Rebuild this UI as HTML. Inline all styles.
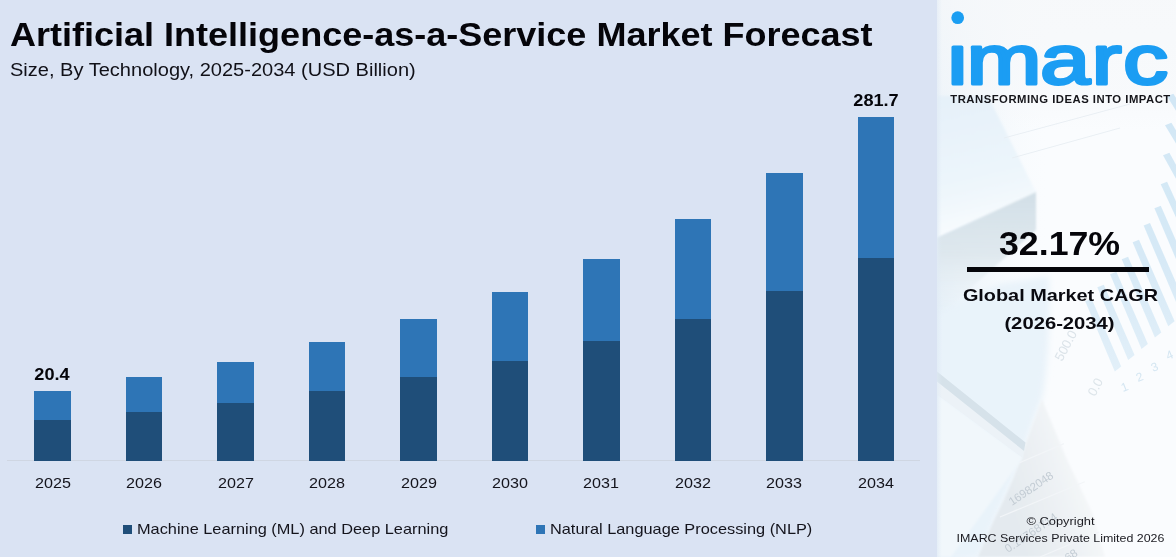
<!DOCTYPE html>
<html lang="en">
<head>
<meta charset="utf-8">
<title>Artificial Intelligence-as-a-Service Market Forecast</title>
<style>
html,body{margin:0;padding:0;}
body{width:1176px;height:557px;overflow:hidden;background:#dae3f3;font-family:"Liberation Sans",Arial,sans-serif;color:#0b0b0f;position:relative;}
.abs{position:absolute;white-space:nowrap;line-height:1;transform-origin:0 0;}
#title{left:9.6px;top:19px;font-size:32.5px;font-weight:bold;transform:scaleX(1.108);color:#05050a;}
#sub{left:9.8px;top:61.3px;font-size:18px;transform:scaleX(1.113);color:#111118;}
.bar{position:absolute;width:36.4px;}
.d{background:#1f4e79;}
.l{background:#2e75b6;}
#axis{position:absolute;left:7px;top:460px;width:913px;height:1px;background:#cfd6e2;}
.yr{position:absolute;top:475px;width:60px;margin-left:-30px;text-align:center;font-size:15.3px;line-height:15.3px;transform:scaleX(1.055);color:#14141c;}
.val{position:absolute;width:80px;margin-left:-40.6px;text-align:center;font-size:16.3px;line-height:16px;font-weight:bold;transform:scaleX(1.115);color:#05050a;}
.lg{position:absolute;top:525px;width:9px;height:9px;}
.lt{top:521.7px;font-size:14.5px;transform:scaleX(1.126);color:#14141c;}
#panel{position:absolute;left:937px;top:0;width:239px;height:557px;background:#f3f8fc;overflow:hidden;}
#tag{left:13.3px;top:93.7px;font-size:11.3px;font-weight:bold;letter-spacing:.5px;color:#15151a;}
#pct{left:62px;top:226.4px;font-size:34px;font-weight:bold;transform:scaleX(1.05);color:#05050a;}
#rule{position:absolute;left:30px;top:267px;width:182px;height:5px;background:#05050a;}
.ctr{transform-origin:50% 0;text-align:center;}
#g1{left:0;width:239px;top:286.8px;font-size:17px;font-weight:bold;transform:scaleX(1.167);margin-left:4px;color:#0a0a10;}
#g2{left:0;width:239px;top:314.6px;font-size:17px;font-weight:bold;transform:scaleX(1.19);margin-left:3px;color:#0a0a10;}
#c1{left:0;width:239px;top:516px;font-size:11px;transform:scaleX(1.168);margin-left:3.5px;color:#1a1a20;}
#c2{left:0;width:239px;top:533px;font-size:11.3px;transform:scaleX(1.10);margin-left:4px;color:#1a1a20;}
</style>
</head>
<body>
<div id="title" class="abs">Artificial Intelligence-as-a-Service Market Forecast</div>
<div id="sub" class="abs">Size, By Technology, 2025-2034 (USD Billion)</div>

<div id="axis"></div>
<div class="bar l" style="left:34.3px;top:391px;height:29px"></div><div class="bar d" style="left:34.3px;top:420px;height:41px"></div><div class="yr" style="left:52.5px">2025</div>
<div class="bar l" style="left:125.8px;top:377px;height:35px"></div><div class="bar d" style="left:125.8px;top:412px;height:49px"></div><div class="yr" style="left:144.0px">2026</div>
<div class="bar l" style="left:217.3px;top:362px;height:41px"></div><div class="bar d" style="left:217.3px;top:403px;height:58px"></div><div class="yr" style="left:235.5px">2027</div>
<div class="bar l" style="left:308.8px;top:342px;height:49px"></div><div class="bar d" style="left:308.8px;top:391px;height:70px"></div><div class="yr" style="left:327.0px">2028</div>
<div class="bar l" style="left:400.3px;top:319px;height:58px"></div><div class="bar d" style="left:400.3px;top:377px;height:84px"></div><div class="yr" style="left:418.5px">2029</div>
<div class="bar l" style="left:491.8px;top:292px;height:69px"></div><div class="bar d" style="left:491.8px;top:361px;height:100px"></div><div class="yr" style="left:510.0px">2030</div>
<div class="bar l" style="left:583.2px;top:259px;height:82px"></div><div class="bar d" style="left:583.2px;top:341px;height:120px"></div><div class="yr" style="left:601.4px">2031</div>
<div class="bar l" style="left:674.7px;top:219px;height:100px"></div><div class="bar d" style="left:674.7px;top:319px;height:142px"></div><div class="yr" style="left:692.9px">2032</div>
<div class="bar l" style="left:766.2px;top:173px;height:118px"></div><div class="bar d" style="left:766.2px;top:291px;height:170px"></div><div class="yr" style="left:784.4px">2033</div>
<div class="bar l" style="left:857.7px;top:117px;height:141px"></div><div class="bar d" style="left:857.7px;top:258px;height:203px"></div><div class="yr" style="left:875.9px">2034</div>
<div class="val" style="left:52.5px;top:366px">20.4</div>
<div class="val" style="left:876.2px;top:91.8px">281.7</div>

<div class="lg d" style="left:123px"></div>
<div class="abs lt" style="left:137px">Machine Learning (ML) and Deep Learning</div>
<div class="lg l" style="left:536px"></div>
<div class="abs lt" style="left:550px">Natural Language Processing (NLP)</div>

<div id="panel">
<svg id="bg" width="239" height="557" viewBox="937 0 239 557" style="position:absolute;left:0;top:0">
<defs>
<linearGradient id="gEdge" x1="0" x2="1" y1="0" y2="0"><stop offset="0" stop-color="#dfeaf5"/><stop offset="1" stop-color="#dfeaf5" stop-opacity="0"/></linearGradient>
<linearGradient id="gTop" x1="0" x2="1" y1="0" y2="0"><stop offset="0" stop-color="#e4eff8"/><stop offset="1" stop-color="#f6fafd" stop-opacity="0"/></linearGradient>
<linearGradient id="gTopFace" gradientUnits="userSpaceOnUse" x1="960" y1="100" x2="990" y2="225"><stop offset="0" stop-color="#e6f1f9"/><stop offset=".6" stop-color="#ecf5fb"/><stop offset="1" stop-color="#f7fbfe"/></linearGradient>
<linearGradient id="gWhiteTop" x1="0" x2="0" y1="0" y2="1"><stop offset="0" stop-color="#f6f8fa" stop-opacity=".85"/><stop offset=".7" stop-color="#f6f8fa" stop-opacity=".6"/><stop offset="1" stop-color="#f6f8fa" stop-opacity="0"/></linearGradient>
<linearGradient id="gFace" x1="0" x2="0" y1="0" y2="1"><stop offset="0" stop-color="#d2dfe7"/><stop offset=".5" stop-color="#dde7ed" stop-opacity=".9"/><stop offset="1" stop-color="#eef4f8" stop-opacity="0"/></linearGradient>
<linearGradient id="gStripe" gradientUnits="userSpaceOnUse" x1="0" x2="0" y1="100" y2="380"><stop offset="0" stop-color="#d0e6f5"/><stop offset=".55" stop-color="#d5e9f6"/><stop offset="1" stop-color="#e2f0f9"/></linearGradient>
<linearGradient id="gPaper" gradientUnits="userSpaceOnUse" x1="1000" y1="470" x2="1095" y2="440"><stop offset="0" stop-color="#e4eaef"/><stop offset=".45" stop-color="#edf1f4"/><stop offset="1" stop-color="#fafbfc"/></linearGradient>
<filter id="b0"><feGaussianBlur stdDeviation="0.7"/></filter>
<filter id="b1"><feGaussianBlur stdDeviation="1.2"/></filter>
<filter id="b2"><feGaussianBlur stdDeviation="3"/></filter>
<filter id="b3"><feGaussianBlur stdDeviation="8"/></filter>
</defs>
<rect x="937" y="0" width="239" height="557" fill="#fafcfe"/>
<!-- soft bluish wash on the left / top-left -->
<rect x="937" y="0" width="110" height="557" fill="url(#gTop)"/>
<rect x="937" y="0" width="239" height="130" fill="url(#gWhiteTop)"/>
<!-- box top face -->
<polygon points="937,96 988,96 1036,192 937,238" fill="url(#gTopFace)" filter="url(#b1)"/>
<!-- box side face -->
<polygon points="937,238 1036,192 1036,230 937,318" fill="url(#gFace)" filter="url(#b1)"/>
<!-- faint paper lines -->
<g stroke="#e8eef3" stroke-width="1" fill="none" opacity=".9">
<line x1="1004" y1="138" x2="1130" y2="104"/><line x1="1012" y1="158" x2="1120" y2="128"/>
</g>
<!-- stripes -->
<g id="stripes" fill="url(#gStripe)" filter="url(#b0)" opacity=".95">
<polygon points="1085.2,301.2 1091.6,298.8 1121.2,366.4 1114.8,371.4"/>
<polygon points="1097.3,287.2 1103.8,284.8 1134.6,355.1 1128.2,360.1"/>
<polygon points="1110.0,274.2 1116.4,271.8 1147.9,343.9 1141.5,348.9"/>
<polygon points="1121.7,259.2 1128.1,256.8 1161.3,332.6 1154.9,337.6"/>
<polygon points="1132.6,242.2 1139.0,239.8 1174.6,321.3 1168.2,326.3"/>
<polygon points="1143.6,225.5 1150.0,223.1 1188.0,310.1 1181.6,315.1"/>
<polygon points="1154.4,208.2 1160.8,205.8 1201.3,298.8 1194.9,303.8"/>
<polygon points="1160.7,184.2 1167.1,181.8 1190,232 1183.6,234"/>
<polygon points="1163,155.2 1169.4,152.8 1190,190 1183.6,192.5"/>
<polygon points="1165,125.2 1171.4,122.8 1190,153 1183.6,156"/>
<polygon points="1167,96.2 1173.4,93.8 1190,120 1183.6,123"/>
</g>
<!-- lower-left bluish sheet -->
<path d="M937,314 L1000,284 L1049,276 C1051,330 1046,385 1041.8,399 Q1030,432 1018,466 Q1010,488 994,520 L978,557 L937,557 Z" fill="#e9f3fa" filter="url(#b2)"/>
<!-- gray paper bottom -->
<path d="M1041.8,399 L1067,459.5 L1092.7,513.6 L1105,557 L978,557 L994,520 Q1010,488 1018,466 Q1030,432 1041.8,399 Z" fill="url(#gPaper)" filter="url(#b1)"/>
<g stroke="#f2f5f8" stroke-width="1.2" fill="none"><line x1="1019.5" y1="462.7" x2="1064" y2="443.6"/><line x1="1000" y1="517" x2="1084.7" y2="481.8"/><line x1="1040" y1="557" x2="1099" y2="532"/></g>
<!-- pen -->
<polygon points="937,394.5 1022.8,457.7 951,557 937,557" fill="#f1f7fb" filter="url(#b1)"/>
<polygon points="937,380 1024,450 1022.8,458 937,394.5" fill="#ecf2f7" filter="url(#b0)"/>
<polygon points="937,371.5 1025.5,442.5 1024,451 937,381.5" fill="#d6e2ea" filter="url(#b0)"/>
<rect x="937" y="0" width="5" height="557" fill="url(#gEdge)" opacity=".6"/>
<g font-family="'Liberation Sans',Arial,sans-serif" fill="#c3ccd4">
<text transform="translate(1062,362) rotate(-62)" font-size="13" fill="#dbe3e9">500.0</text>
<text transform="translate(1095,397) rotate(-62)" font-size="13" fill="#dde5ea">0.0</text>
<text transform="translate(1123,392) rotate(-22)" font-size="12" fill="#d4e6f2">1</text>
<text transform="translate(1138,382) rotate(-22)" font-size="12" fill="#d4e6f2">2</text>
<text transform="translate(1153,372) rotate(-22)" font-size="12" fill="#d4e6f2">3</text>
<text transform="translate(1168,360) rotate(-22)" font-size="12" fill="#d4e6f2">4</text>
<text transform="translate(1012,506) rotate(-34)" font-size="11.5">16982048</text>
<text transform="translate(1008,553) rotate(-34)" font-size="11.5">0.15768714</text>
<text transform="translate(1068,562) rotate(-34)" font-size="11.5">68</text>
</g>
</svg>
<svg id="logo" width="239" height="120" viewBox="937 0 239 120" style="position:absolute;left:0;top:0">
<defs><clipPath id="cx"><rect x="937" y="43" width="239" height="60"/></clipPath></defs>
<circle cx="957.7" cy="17.7" r="6.35" fill="#1b9ef2"/>
<g clip-path="url(#cx)">
<text transform="translate(946,84) scale(1.28,1)" font-family="'Liberation Sans',Arial,sans-serif" font-size="70" fill="#1b9df3" stroke="#1b9df3" stroke-width="3.6" vector-effect="non-scaling-stroke" stroke-linejoin="round" stroke-linecap="round" dx="1.2 -0.5 -0.9 1.4 1.2">imarc</text>
</g>
</svg>
<div class="abs" id="tag">TRANSFORMING IDEAS INTO IMPACT</div>
<div class="abs" id="pct">32.17%</div>
<div id="rule"></div>
<div class="abs ctr" id="g1">Global Market CAGR</div>
<div class="abs ctr" id="g2">(2026-2034)</div>
<div class="abs ctr" id="c1">© Copyright</div>
<div class="abs ctr" id="c2">IMARC Services Private Limited 2026</div>
</div>
</body>
</html>
